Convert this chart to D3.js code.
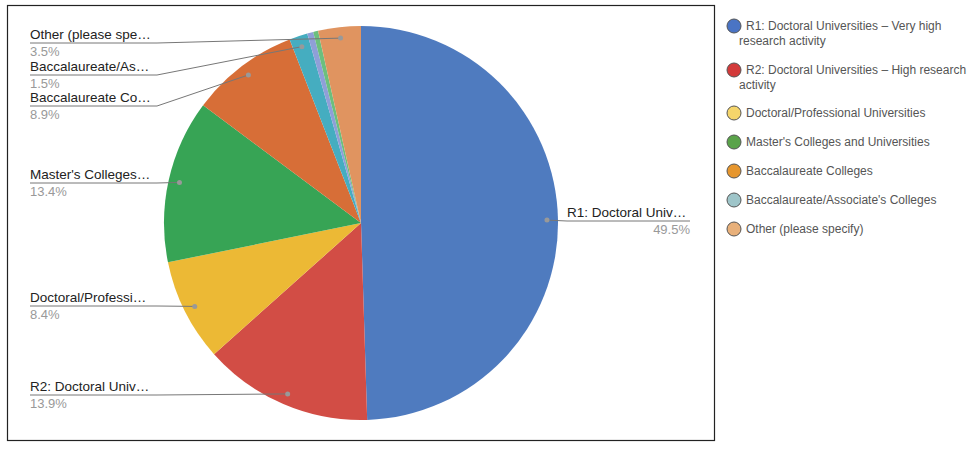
<!DOCTYPE html><html><head><meta charset="utf-8"><script src="https://cdn.jsdelivr.net/npm/d3@7"></script>
<style>body{margin:0;background:#fff;font-family:"Liberation Sans",Arial,sans-serif}</style></head><body><svg id="c" width="974" height="450"></svg>
<script>
const categories=["R1: Doctoral Universities – Very high research activity","R2: Doctoral Universities – High research activity","Doctoral/Professional Universities","Master's Colleges and Universities","Baccalaureate Colleges","Baccalaureate/Associate's Colleges","Unlabeled A","Unlabeled B","Other (please specify)"];
const shortLabels=["R1: Doctoral Univ…","R2: Doctoral Univ…","Doctoral/Professi…","Master's Colleges…","Baccalaureate Co…","Baccalaureate/As…","","","Other (please spe…"];
const values=[49.5,13.9,8.4,13.4,8.9,1.5,0.5,0.4,3.5];
const sliceColors=["#4f7bbf","#d24d45","#ecb935","#37a455","#d76e37","#45adc0","#8f9fd8","#6cbf7e","#e09460"];
const legendItems=[0,1,2,3,4,5,8];
const legendColors=["#4a74c4","#d33a3a","#f5d56b","#5aa34a","#e6962e","#9ec5c9","#e8b07a"];
const svg=d3.select("#c");
svg.append("rect").attr("x",7.5).attr("y",5.5).attr("width",707).attr("height",435).attr("fill","none").attr("stroke","#222").attr("stroke-width",1.2);
const cx=361,cy=223,R=197;
const pie=d3.pie().sort(null).value(d=>d)(values);
const arc=d3.arc().innerRadius(0).outerRadius(R);
const g=svg.append("g").attr("transform",`translate(${cx},${cy})`);
g.selectAll("path").data(pie).join("path").attr("d",arc).attr("fill",(d,i)=>sliceColors[i]);
const labelY={0:221,1:395,2:306,3:183,4:106,5:75,8:43};
Object.keys(labelY).forEach(k=>{
  const i=+k,d=pie[i],a=(d.startAngle+d.endAngle)/2,r=186;
  const px=cx+r*Math.sin(a),py=cy-r*Math.cos(a),ly=labelY[i];
  const right=i===0;
  const x0=right?690:30,x1=right?567:157;
  svg.append("path").attr("d",`M${x0},${ly}L${x1},${ly}L${px},${py}`).attr("fill","none").attr("stroke","#777").attr("stroke-width",1);
  svg.append("circle").attr("cx",px).attr("cy",py).attr("r",2.5).attr("fill","#999");
  svg.append("text").attr("x",right?567:30).attr("y",ly-4).attr("font-size",13.5).attr("fill","#222").text(shortLabels[i]);
  svg.append("text").attr("x",right?690:30).attr("y",ly+13).attr("text-anchor",right?"end":"start").attr("font-size",13).attr("fill","#999").text(d3.format(".1f")(values[i])+"%");
});
const lg=svg.append("g");
const lys=[26,70,113,142,171,200,229];
legendItems.forEach((ci,j)=>{
  const y=lys[j];
  lg.append("circle").attr("cx",734).attr("cy",y).attr("r",7).attr("fill",legendColors[j]).attr("stroke","#555").attr("stroke-width",1);
  let lines=[categories[ci]];
  if(ci===0)lines=["R1: Doctoral Universities – Very high","research activity"];
  if(ci===1)lines=["R2: Doctoral Universities – High research","activity"];
  lines.forEach((t,k)=>lg.append("text").attr("x",k?739:746).attr("y",y+4+k*15).attr("font-size",12).attr("fill","#555").text(t));
});
</script></body></html>
